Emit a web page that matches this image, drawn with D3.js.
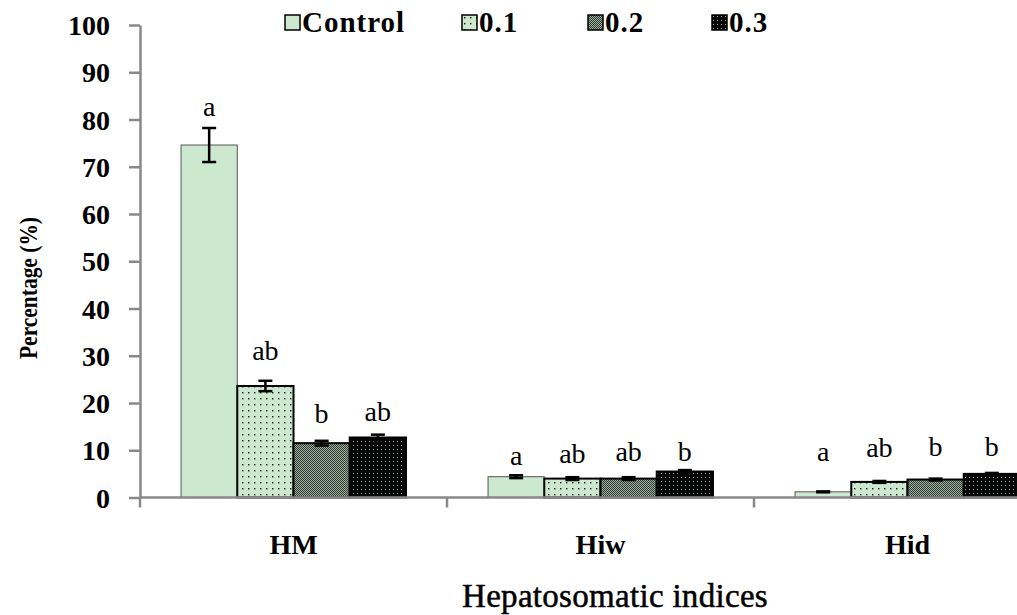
<!DOCTYPE html>
<html>
<head>
<meta charset="utf-8">
<script src="https://cdn.jsdelivr.net/npm/d3@7"></script>
<style>
  body { margin: 0; background: #fff; }
  svg { display: block; }
</style>
</head>
<body>
<div id="chart"></div>
<script>
// Data
const categories = ["HM", "Hiw", "Hid"];
const seriesNames = ["Control", "0.1", "0.2", "0.3"];
const means = {
    "Control": [74.6, 4.4, 1.2],
    "0.1": [23.6, 4.0, 3.3],
    "0.2": [11.5, 4.0, 3.8],
    "0.3": [12.7, 5.5, 5.0]
};
const errors = {
    "Control": [3.6, 0.3, 0.1],
    "0.1": [1.1, 0.3, 0.2],
    "0.2": [0.5, 0.3, 0.2],
    "0.3": [0.6, 0.3, 0.2]
};
const letters = {
    "Control": ["a", "a", "a"],
    "0.1": ["ab", "ab", "ab"],
    "0.2": ["b", "ab", "b"],
    "0.3": ["ab", "b", "b"]
};
// height (in % units) of the centre of each letter
const letterY = {
    "Control": [82.6, 8.6, 9.6],
    "0.1": [30.8, 9.0, 10.3],
    "0.2": [17.5, 9.4, 10.5],
    "0.3": [17.9, 9.6, 10.5]
};
const yTicks = [0, 10, 20, 30, 40, 50, 60, 70, 80, 90, 100];

const FONT = '"Liberation Serif", "Times New Roman", serif';
const width = 1017, height = 615;
const margin = { top: 25, left: 140, bottom: 117 };
const plotRight = 1061; // third group runs past the edge of the picture

const svg = d3.select("#chart").append("svg")
    .attr("width", width)
    .attr("height", height);

// Patterns for the treatment bars
const defs = svg.append("defs");

const p1 = defs.append("pattern")
    .attr("id", "pat01").attr("patternUnits", "userSpaceOnUse")
    .attr("width", 6).attr("height", 6);
p1.append("rect").attr("width", 6).attr("height", 6).attr("fill", "#cce8cf");
p1.append("rect").attr("x", 2).attr("y", 2).attr("width", 1.4).attr("height", 1.4).attr("fill", "#111");

const p2 = defs.append("pattern")
    .attr("id", "pat02").attr("patternUnits", "userSpaceOnUse")
    .attr("width", 2).attr("height", 2);
p2.append("rect").attr("width", 2).attr("height", 2).attr("fill", "#9fb3a2");
p2.append("rect").attr("width", 1).attr("height", 1).attr("fill", "#2f3a31");
p2.append("rect").attr("x", 1).attr("y", 1).attr("width", 1).attr("height", 1).attr("fill", "#2f3a31");

const p3 = defs.append("pattern")
    .attr("id", "pat03").attr("patternUnits", "userSpaceOnUse")
    .attr("width", 4).attr("height", 4);
p3.append("rect").attr("width", 4).attr("height", 4).attr("fill", "#080808");
p3.append("rect").attr("x", 1).attr("y", 1).attr("width", 1).attr("height", 1).attr("fill", "#9fb3a2");

const fills = {
    "Control": "#cce8cf",
    "0.1": "url(#pat01)",
    "0.2": "url(#pat02)",
    "0.3": "url(#pat03)"
};
const strokes = { "Control": "#555", "0.1": "#000", "0.2": "#000", "0.3": "#000" };
const strokeW = { "Control": 1, "0.1": 2, "0.2": 2, "0.3": 2 };

// Scales
const x0 = d3.scaleBand()
    .domain(categories)
    .range([margin.left, plotRight])
    .paddingInner(0).paddingOuter(0);

const x1 = d3.scaleBand()
    .domain(seriesNames)
    .range([0, x0.bandwidth()])
    .paddingInner(0)
    .paddingOuter(0.73);

const y = d3.scaleLinear()
    .domain([0, 100])
    .range([height - margin.bottom - 0.5, margin.top]);

// Bars
const barData = [];
categories.forEach((c, ci) => {
    seriesNames.forEach(s => {
        barData.push({ cat: c, series: s, value: means[s][ci], err: errors[s][ci],
            letter: letters[s][ci], ly: letterY[s][ci] });
    });
});

const bars = svg.append("g").attr("class", "bars");
bars.selectAll("rect")
    .data(barData)
    .join("rect")
    .attr("x", d => x0(d.cat) + x1(d.series))
    .attr("y", d => y(d.value))
    .attr("width", x1.bandwidth())
    .attr("height", d => y(0) - y(d.value))
    .attr("fill", d => fills[d.series])
    .attr("stroke", d => strokes[d.series])
    .attr("stroke-width", d => strokeW[d.series]);

// Error bars
const errG = svg.append("g").attr("class", "errors")
    .attr("stroke", "#000").attr("stroke-width", 2.5);
const cx = d => x0(d.cat) + x1(d.series) + x1.bandwidth() / 2;
errG.selectAll("line.v")
    .data(barData)
    .join("line")
    .attr("class", "v")
    .attr("x1", cx).attr("x2", cx)
    .attr("y1", d => y(d.value + d.err))
    .attr("y2", d => y(d.value - d.err));
errG.selectAll("line.top")
    .data(barData)
    .join("line")
    .attr("class", "top")
    .attr("x1", d => cx(d) - 7).attr("x2", d => cx(d) + 7)
    .attr("y1", d => y(d.value + d.err)).attr("y2", d => y(d.value + d.err));
errG.selectAll("line.bot")
    .data(barData)
    .join("line")
    .attr("class", "bot")
    .attr("x1", d => cx(d) - 7).attr("x2", d => cx(d) + 7)
    .attr("y1", d => y(d.value - d.err)).attr("y2", d => y(d.value - d.err));

// Significance letters
svg.append("g").selectAll("text")
    .data(barData)
    .join("text")
    .attr("x", cx)
    .attr("y", d => y(d.ly))
    .attr("dy", "0.3em")
    .attr("text-anchor", "middle")
    .style("font-family", FONT)
    .style("font-size", "28px")
    .text(d => d.letter);

// Y axis
const yAxis = d3.axisLeft(y).tickValues(yTicks).tickSize(11).tickSizeOuter(0).tickPadding(19);
const yAxisG = svg.append("g")
    .attr("transform", `translate(${margin.left},0)`)
    .call(yAxis);
yAxisG.select(".domain").attr("stroke", "#888").attr("stroke-width", 2.5);
yAxisG.selectAll(".tick line").attr("stroke", "#888").attr("stroke-width", 2.5);
yAxisG.selectAll(".tick text")
    .attr("fill", "#000")
    .attr("dy", "0.34em")
    .style("font-family", FONT)
    .style("font-weight", "bold")
    .style("font-size", "28px");

// X axis (boundary ticks between groups)
const xAxisG = svg.append("g")
    .attr("transform", `translate(0,${y(0)})`);
xAxisG.append("line")
    .attr("x1", margin.left).attr("x2", plotRight)
    .attr("stroke", "#888").attr("stroke-width", 2.5);
xAxisG.selectAll("line.tick")
    .data(categories)
    .join("line")
    .attr("class", "tick")
    .attr("x1", d => x0(d)).attr("x2", d => x0(d))
    .attr("y1", 0).attr("y2", 10)
    .attr("stroke", "#888").attr("stroke-width", 2.5);
xAxisG.selectAll("text")
    .data(categories)
    .join("text")
    .attr("x", d => x0(d) + x0.bandwidth() / 2)
    .attr("y", 56)
    .attr("text-anchor", "middle")
    .style("font-family", FONT)
    .style("font-weight", "bold")
    .style("font-size", "28px")
    .text(d => d);

// Axis titles
svg.append("text")
    .attr("x", 615).attr("y", 607)
    .attr("text-anchor", "middle")
    .attr("stroke", "#000").attr("stroke-width", 0.5)
    .style("font-family", FONT)
    .style("font-size", "33px")
    .style("letter-spacing", "0.3px")
    .text("Hepatosomatic indices");

svg.append("text")
    .attr("transform", "translate(37,288) rotate(-90)")
    .attr("text-anchor", "middle")
    .attr("textLength", 142)
    .attr("lengthAdjust", "spacingAndGlyphs")
    .style("font-family", FONT)
    .style("font-weight", "bold")
    .style("font-size", "26px")
    .text("Percentage (%)");

// Legend
const legendX = [285, 462, 588, 712];
const legend = svg.append("g").attr("class", "legend");
const items = legend.selectAll("g")
    .data(seriesNames)
    .join("g")
    .attr("transform", (d, i) => `translate(${legendX[i]},15)`);
items.append("rect")
    .attr("width", 15).attr("height", 15)
    .attr("fill", d => fills[d])
    .attr("stroke", "#000").attr("stroke-width", 1.5);
items.append("text")
    .attr("x", 17).attr("y", 17)
    .style("font-family", FONT)
    .style("font-weight", "bold")
    .style("font-size", "29px")
    .style("letter-spacing", "1px")
    .text(d => d);
</script>
</body>
</html>
